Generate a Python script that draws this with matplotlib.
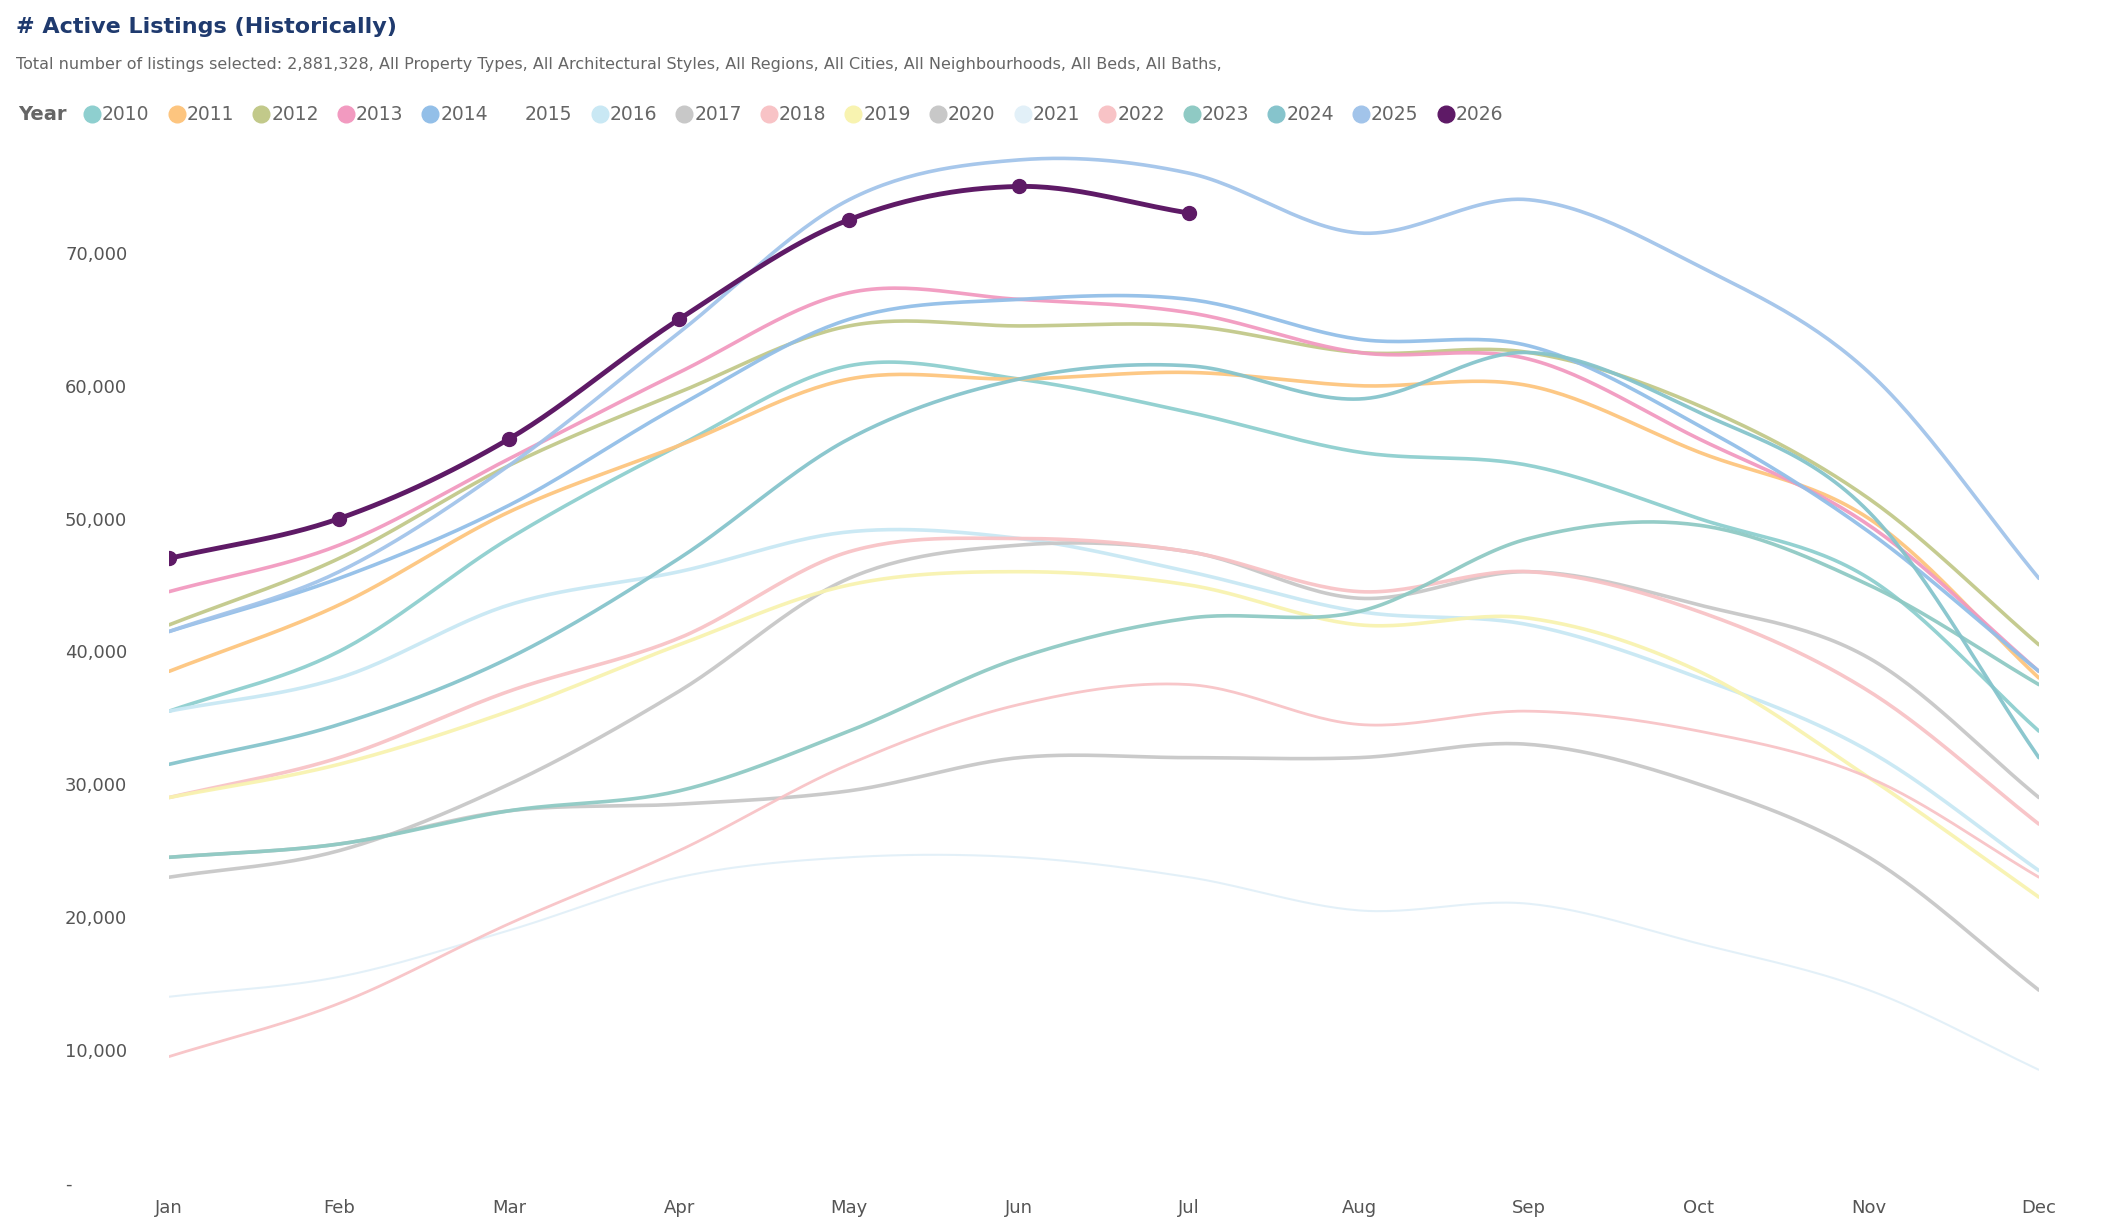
import numpy as np
import matplotlib.pyplot as plt
from matplotlib.ticker import FuncFormatter

months = ['Jan', 'Feb', 'Mar', 'Apr', 'May', 'Jun', 'Jul', 'Aug', 'Sep', 'Oct', 'Nov', 'Dec']
legend_years = ['2010', '2011', '2012', '2013', '2014', '2015', '2016', '2017', '2018',
                '2019', '2020', '2021', '2022', '2023', '2024', '2025', '2026']

# values in thousands
y2010 = [35.5, 40, 48.5, 55.5, 61.5, 60.5, 58, 55, 54, 50, 45.5, 34]
y2011 = [38.5, 43.5, 50.5, 55.5, 60.5, 60.5, 61, 60, 60, 55, 50, 38]
y2012 = [42, 47, 54, 59.5, 64.5, 64.5, 64.5, 62.5, 62.5, 58.5, 51.5, 40.5]
y2013 = [44.5, 48, 54.5, 61, 67, 66.5, 65.5, 62.5, 62, 56, 49.5, 38.5]
y2014 = [41.5, 45.5, 51, 58.5, 65, 66.5, 66.5, 63.5, 63, 57, 49, 38.5]
y2016 = [35.5, 38, 43.5, 46, 49, 48.5, 46, 43, 42, 38, 32.5, 23.5]
y2017 = [23, 25, 30, 37, 45.5, 48, 47.5, 44, 46, 43.5, 39.5, 29]
y2018 = [29, 32, 37, 41, 47.5, 48.5, 47.5, 44.5, 46, 43, 37, 27]
y2019 = [29, 31.5, 35.5, 40.5, 45, 46, 45, 42, 42.5, 38.5, 30.5, 21.5]
y2020 = [24.5, 25.5, 28, 28.5, 29.5, 32, 32, 32, 33, 30, 24.5, 14.5]
y2021 = [14, 15.5, 19, 23, 24.5, 24.5, 23, 20.5, 21, 18, 14.5, 8.5]
y2022 = [9.5, 13.5, 19.5, 25, 31.5, 36, 37.5, 34.5, 35.5, 34, 30.5, 23]
y2023 = [24.5, 25.5, 28, 29.5, 34, 39.5, 42.5, 43, 48.5, 49.5, 45, 37.5]
y2024 = [31.5, 34.5, 39.5, 47, 56, 60.5, 61.5, 59, 62.5, 58, 50.5, 32]
y2025 = [41.5, 46, 54, 64, 74, 77, 76, 71.5, 74, 69, 61, 45.5]
y2026 = [47, 50, 56, 65, 72.5, 75, 73]

series = {'2010': y2010, '2011': y2011, '2012': y2012, '2013': y2013, '2014': y2014,
          '2016': y2016, '2017': y2017, '2018': y2018, '2019': y2019, '2020': y2020,
          '2021': y2021, '2022': y2022, '2023': y2023, '2024': y2024, '2025': y2025,
          '2026': y2026}

colors = {'2010': '#8ecfcf', '2011': '#fdc57f', '2012': '#c2c98a', '2013': '#f29ac0',
          '2014': '#93bfe8', '2015': '#ffffff', '2016': '#c9e8f4', '2017': '#c8c8c8',
          '2018': '#f8c3c6', '2019': '#f8f3b0', '2020': '#c8c8c8', '2021': '#e2f0f8',
          '2022': '#f8c3c6', '2023': '#8fcac4', '2024': '#86c4cc', '2025': '#a2c4ea',
          '2026': '#5e1a66'}


def smooth(y, n=30):
    """Catmull-Rom spline through the points"""
    y = np.asarray(y, float) * 1000
    p = np.concatenate([[2 * y[0] - y[1]], y, [2 * y[-1] - y[-2]]])
    xs, ys = [], []
    for i in range(len(y) - 1):
        t = np.linspace(0, 1, n, endpoint=False)
        p0, p1, p2, p3 = p[i], p[i + 1], p[i + 2], p[i + 3]
        ys.append(0.5 * (2 * p1 + (-p0 + p2) * t + (2 * p0 - 5 * p1 + 4 * p2 - p3) * t**2
                         + (-p0 + 3 * p1 - 3 * p2 + p3) * t**3))
        xs.append(i + t)
    xs.append([len(y) - 1])
    ys.append([y[-1]])
    return np.concatenate(xs), np.concatenate(ys)


fig = plt.figure(figsize=(21.15, 12.32), dpi=100)
ax = fig.add_axes([0.080, 0.040, 0.884, 0.841])

thin = {'2021': 1.5, '2022': 2}
for yr, vals in series.items():
    if yr == '2026':
        continue
    xs, ys = smooth(vals)
    ax.plot(xs, ys, color=colors[yr], lw=thin.get(yr, 2.6), alpha=0.95, solid_capstyle='round')

xs, ys = smooth(y2026)
ax.plot(xs, ys, color=colors['2026'], lw=3.5)
ax.plot(range(len(y2026)), np.array(y2026) * 1000, 'o', color=colors['2026'], ms=10)

ax.set_xlim(0, 11)
ax.set_ylim(0, 78000)
ax.set_xticks(range(12))
ax.set_xticklabels(months)
ax.set_yticks(range(0, 80000, 10000))
ax.yaxis.set_major_formatter(FuncFormatter(lambda v, _: '-' if v == 0 else f'{int(v):,}'))
ax.tick_params(length=0, labelsize=13, colors='#555555', pad=12)
ax.tick_params(axis='y', pad=75)
for lbl in ax.get_yticklabels():
    lbl.set_horizontalalignment('left')
for s in ax.spines.values():
    s.set_visible(False)

fig.text(0.0076, 0.978, '# Active Listings (Historically)', fontsize=16, fontweight='bold',
         color='#1f3a6e', va='center')
fig.text(0.0076, 0.948, 'Total number of listings selected: 2,881,328, All Property Types, All Architectural Styles, '
         'All Regions, All Cities, All Neighbourhoods, All Beds, All Baths,',
         fontsize=11.5, color='#666666', va='center')

ly = 1 - 114 / 1232
fig.text(18 / 2115, ly, 'Year', fontsize=14, fontweight='bold', color='#666666', va='center')
for i, yr in enumerate(legend_years):
    x = (92 + i * 84.6) / 2115
    if yr != '2015':
        fig.lines.append(plt.Line2D([x], [ly], marker='o', ms=12, color=colors[yr],
                                    transform=fig.transFigure))
    fig.text(x + 10 / 2115, ly, yr, fontsize=13.5, color='#666666', va='center')

fig.savefig('out.png', dpi=100, facecolor='white')
